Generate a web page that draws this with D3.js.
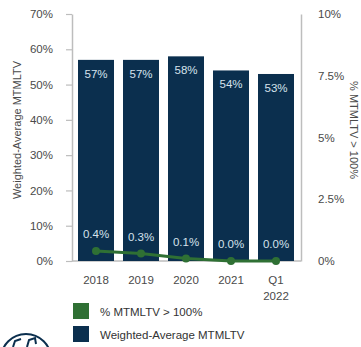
<!DOCTYPE html>
<html>
<head>
<meta charset="utf-8">
<script src="https://cdn.jsdelivr.net/npm/d3@7"></script>
<style>
  html, body { margin: 0; padding: 0; background: #fff; }
  svg { display: block; font-family: "Liberation Sans", Arial, sans-serif; }
</style>
</head>
<body>
<svg id="chart" width="361" height="347"></svg>
<script>
// Periods on the x axis
const periods = ["2018", "2019", "2020", "2021", "Q1 2022"];
// Weighted-average MTMLTV (%), drawn as bars on the left axis
const avgMtmltv = [57, 57, 58, 54, 53];
// Share of loans with MTMLTV above 100% (%), drawn as a line on the right axis
const over100 = [0.4, 0.3, 0.1, 0.0, 0.0];
// Axis tick labels
const leftTicks = [0, 10, 20, 30, 40, 50, 60, 70];
const rightTicks = [0, 2.5, 5, 7.5, 10];

const navy = "#0b2f4e";
const green = "#2f7034";
const textCol = "#4a4a4a";
const axisCol = "#bdbdbd";

const svg = d3.select("#chart");

const plotTop = 14, plotBottom = 261;
const x = d3.scaleBand().domain(periods).range([73.5, 298.5]).paddingInner(0.2).paddingOuter(0.1);
const yL = d3.scaleLinear().domain([0, 70]).range([plotBottom, plotTop]);
const yR = d3.scaleLinear().domain([0, 10]).range([plotBottom, plotTop]);

// Left axis
const leftAxis = d3.axisLeft(yL).tickValues(leftTicks).tickFormat(d => d + "%").tickSizeInner(6).tickSizeOuter(0).tickPadding(13);
const gL = svg.append("g").attr("transform", "translate(72,0)").call(leftAxis);
gL.select(".domain").attr("stroke", axisCol).attr("stroke-width", 1.5);
gL.selectAll(".tick line").attr("stroke", axisCol).attr("stroke-width", 1.2);
gL.selectAll(".tick text").attr("fill", textCol).attr("font-size", 11.5);

// Right axis (line only, labels offset)
const rightAxis = d3.axisRight(yR).tickValues(rightTicks).tickFormat(d => d + "%").tickSize(0).tickPadding(17);
const gR = svg.append("g").attr("transform", "translate(301,0)").call(rightAxis);
gR.select(".domain").attr("stroke", axisCol).attr("stroke-width", 1.5);
gR.selectAll(".tick text").attr("fill", textCol).attr("font-size", 11.5);

// Baseline
svg.append("line").attr("x1", 72).attr("x2", 301).attr("y1", plotBottom).attr("y2", plotBottom)
  .attr("stroke", axisCol).attr("stroke-width", 1.5);

// Bars
const rows = periods.map((p, i) => ({ p, v: avgMtmltv[i], r: over100[i] }));
svg.append("g").selectAll("rect").data(rows).join("rect")
  .attr("x", d => x(d.p))
  .attr("width", x.bandwidth())
  .attr("y", d => yL(d.v))
  .attr("height", d => yL(0) - yL(d.v))
  .attr("fill", navy);

// Bar value labels
svg.append("g").selectAll("text").data(rows).join("text")
  .attr("x", d => x(d.p) + x.bandwidth() / 2)
  .attr("y", d => yL(d.v) + 18)
  .attr("text-anchor", "middle")
  .attr("fill", "#d6e2ec")
  .attr("font-size", 11.5)
  .text(d => d.v + "%");

// Line for share over 100%
const line = d3.line().x(d => x(d.p) + x.bandwidth() / 2).y(d => yR(d.r));
svg.append("path").datum(rows).attr("d", line)
  .attr("fill", "none").attr("stroke", green).attr("stroke-width", 3);
svg.append("g").selectAll("circle").data(rows).join("circle")
  .attr("cx", d => x(d.p) + x.bandwidth() / 2)
  .attr("cy", d => yR(d.r))
  .attr("r", 4)
  .attr("fill", green);

// Line value labels
svg.append("g").selectAll("text").data(rows).join("text")
  .attr("x", d => x(d.p) + x.bandwidth() / 2)
  .attr("y", d => yR(d.r) - 13)
  .attr("text-anchor", "middle")
  .attr("fill", "#d6e2ec")
  .attr("font-size", 11.5)
  .text(d => d.r.toFixed(1) + "%");

// X axis labels
const xl = svg.append("g").selectAll("text").data(periods).join("text")
  .attr("x", d => x(d) + x.bandwidth() / 2)
  .attr("y", 284)
  .attr("text-anchor", "middle")
  .attr("fill", textCol)
  .attr("font-size", 11.5);
xl.each(function(d) {
  const parts = d.split(" ");
  const t = d3.select(this);
  parts.forEach((s, k) => t.append("tspan").attr("x", t.attr("x")).attr("dy", k === 0 ? 0 : 16).text(s));
});

// Axis titles
svg.append("text")
  .attr("transform", "translate(21,130) rotate(-90)")
  .attr("text-anchor", "middle")
  .attr("fill", textCol)
  .attr("font-size", 11)
  .text("Weighted-Average MTMLTV");
svg.append("text")
  .attr("transform", "translate(350,130) rotate(90)")
  .attr("text-anchor", "middle")
  .attr("fill", textCol)
  .attr("font-size", 11)
  .text("% MTMLTV > 100%");

// Legend
const legend = [
  { label: "% MTMLTV > 100%", color: green },
  { label: "Weighted-Average MTMLTV", color: navy }
];
const lg = svg.append("g").selectAll("g").data(legend).join("g")
  .attr("transform", (d, i) => `translate(73,${303 + i * 23})`);
lg.append("rect").attr("width", 16).attr("height", 16).attr("fill", d => d.color);
lg.append("text").attr("x", 27).attr("y", 12.5).attr("fill", "#333").attr("font-size", 11.5).text(d => d.label);

// Emblem in the lower-left corner
svg.append("circle").attr("cx", 26).attr("cy", 359).attr("r", 25)
  .attr("fill", "none").attr("stroke", navy).attr("stroke-width", 2);
svg.append("path").attr("d", "M13,347 L15,341 L21,339 M27,347 L29,340 L35,338 L36,344")
  .attr("fill", "none").attr("stroke", navy).attr("stroke-width", 2);
</script>
</body>
</html>
